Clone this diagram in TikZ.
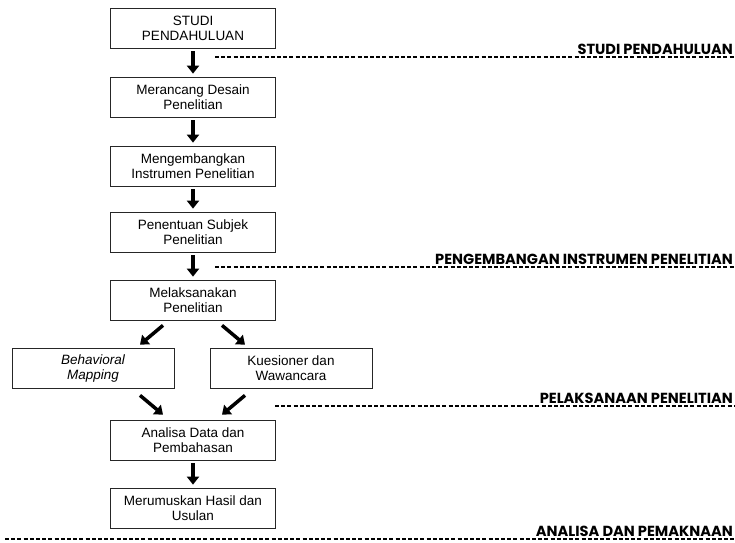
\documentclass[tikz,border=0pt]{standalone}
\usepackage{fontspec}
\setmainfont{Liberation Sans}
\newfontfamily\labfont{Poppins}
\usetikzlibrary{arrows.meta,calc}
\begin{document}
\begin{tikzpicture}[x=1pt,y=-1pt,
  box/.style={draw=black!85,line width=0.7pt,minimum width=165pt,minimum height=40pt,align=center,font=\fontsize{13.5}{15}\selectfont,inner sep=2pt},
  sbox/.style={box,minimum width=162pt},
  arr/.style={line width=3.5pt,-{Triangle[width=12pt,length=8pt]},black},
  dline/.style={line width=1.6pt,dash pattern=on 4pt off 2.2pt,black},
  lab/.style={anchor=south east,inner sep=0pt,font=\labfont\bfseries\fontsize{14.6}{16}\selectfont}]
\useasboundingbox (0,0) rectangle (735,542);
\node[box] (b1) at (193,28) {STUDI\\PENDAHULUAN};
\node[box] (b2) at (193,97) {Merancang Desain\\Penelitian};
\node[box] (b3) at (193,166) {Mengembangkan\\Instrumen Penelitian};
\node[box] (b4) at (193,232) {Penentuan Subjek\\Penelitian};
\node[box] (b5) at (193,300) {Melaksanakan\\Penelitian};
\node[sbox] (bl) at (93,368) {\itshape Behavioral\\\itshape Mapping};
\node[sbox] (br) at (291,368) {Kuesioner dan\\Wawancara};
\node[box] (b6) at (193,440) {Analisa Data dan\\Pembahasan};
\node[box] (b7) at (193,508) {Merumuskan Hasil dan\\Usulan};
\foreach \a/\b in {b1/b2,b2/b3,b3/b4,b4/b5,b6/b7}
  \draw[arr] ($(\a.south)+(0,3)$) -- ($(\b.north)+(0,-3)$);
\draw[arr] ($(b5.south)+(-30,5)$) -- ($(bl.north)+(47,-3)$);
\draw[arr] ($(b5.south)+(29,5)$) -- ($(br.north)+(-46,-3)$);
\draw[arr] ($(bl.south)+(47,7)$) -- ($(b6.north)+(-30,-5)$);
\draw[arr] ($(br.south)+(-46,7)$) -- ($(b6.north)+(29,-5)$);
\coordinate (d1a) at (215,57); \coordinate (d1b) at (735,57);
\coordinate (d2a) at (215,267); \coordinate (d2b) at (735,267);
\coordinate (d3a) at (275,406); \coordinate (d3b) at (735,406);
\coordinate (d4a) at (5,539); \coordinate (d4b) at (735,539);
\foreach \i in {1,2,3,4} \draw[dline] (d\i a) -- (d\i b);
\node[lab] (l1) at (733,54.5) {STUDI PENDAHULUAN};
\node[lab] (l2) at (733,264.5) {PENGEMBANGAN INSTRUMEN PENELITIAN};
\node[lab] (l3) at (733,403.5) {PELAKSANAAN PENELITIAN};
\node[lab] (l4) at (733,536.5) {ANALISA DAN PEMAKNAAN};
\end{tikzpicture}
\end{document}
